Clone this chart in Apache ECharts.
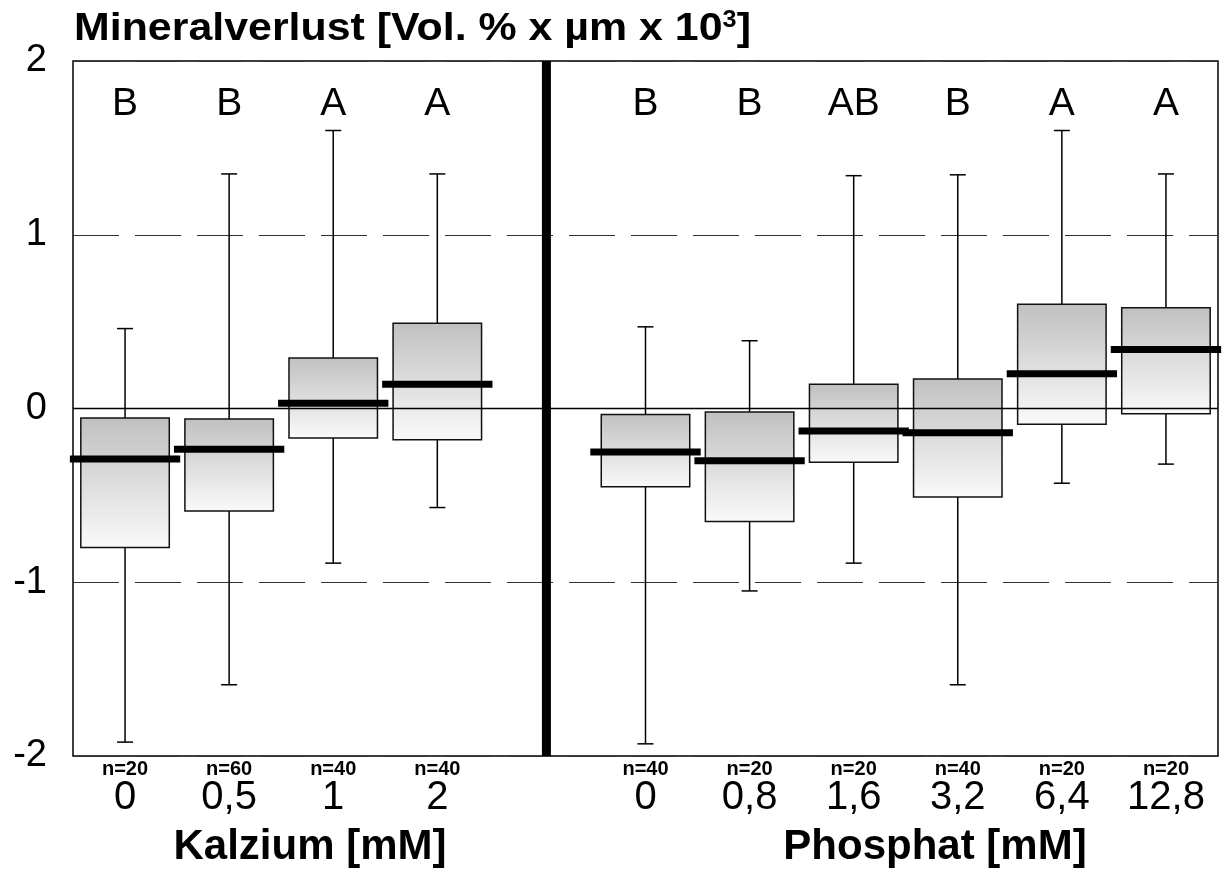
<!DOCTYPE html>
<html>
<head>
<meta charset="utf-8">
<script src="https://cdn.jsdelivr.net/npm/echarts@6/dist/echarts.min.js"></script>
<style>
  html, body { margin: 0; padding: 0; background: #fff; }
  #chart { width: 1223px; height: 874px; }
</style>
</head>
<body>
<div id="chart"></div>
<script>
// Kategorien (Leerplatz an Index 4 = Trennlinie)
const categories = ['0', '0,5', '1', '2', '', '0', '0,8', '1,6', '3,2', '6,4', '12,8'];
const nCounts = [20, 60, 40, 40, null, 40, 20, 20, 40, 20, 20];
const letters = ['B', 'B', 'A', 'A', '', 'B', 'B', 'AB', 'B', 'A', 'A'];

// Boxplot-Werte
const lowWhisker  = [-1.92, -1.59, -0.89, -0.57, null, -1.93, -1.05, -0.89, -1.59, -0.43, -0.32];
const q1          = [-0.80, -0.59, -0.17, -0.18, null, -0.45, -0.65, -0.31, -0.51, -0.09, -0.03];
const median      = [-0.29, -0.235, 0.03, 0.14, null, -0.25, -0.30, -0.13, -0.14, 0.20, 0.34];
const q3          = [-0.055, -0.06, 0.29, 0.49, null, -0.035, -0.02, 0.14, 0.17, 0.60, 0.58];
const highWhisker = [0.46, 1.35, 1.60, 1.35, null, 0.47, 0.39, 1.34, 1.345, 1.60, 1.35];

const yTicks = [-2, -1, 0, 1, 2];
const separatorIndex = 4;
const letterLevel = 1.752;

const FONT = 'Liberation Sans, Arial, sans-serif';

const boxData = [];
categories.forEach((c, i) => {
    if (median[i] == null) return;
    boxData.push([i, lowWhisker[i], q1[i], median[i], q3[i], highWhisker[i]]);
});

// eine Box zeichnen
function renderBox(params, api) {
    const idx = api.value(0);
    const x = api.coord([idx, 0])[0];
    const band = api.size([1, 0])[0];
    const yLow = api.coord([idx, api.value(1)])[1];
    const yQ1 = api.coord([idx, api.value(2)])[1];
    const yMed = api.coord([idx, api.value(3)])[1];
    const yQ3 = api.coord([idx, api.value(4)])[1];
    const yHigh = api.coord([idx, api.value(5)])[1];
    const yLetter = api.coord([idx, letterLevel])[1];
    const boxW = band * 0.85;
    const medW = band * 1.06;
    const capW = 16;
    const lineStyle = { stroke: '#000', lineWidth: 1.5 };
    return {
        type: 'group',
        children: [
            { type: 'line', shape: { x1: x, y1: yHigh, x2: x, y2: yQ3 }, style: lineStyle },
            { type: 'line', shape: { x1: x - capW / 2, y1: yHigh, x2: x + capW / 2, y2: yHigh }, style: lineStyle },
            { type: 'line', shape: { x1: x, y1: yQ1, x2: x, y2: yLow }, style: lineStyle },
            { type: 'line', shape: { x1: x - capW / 2, y1: yLow, x2: x + capW / 2, y2: yLow }, style: lineStyle },
            {
                type: 'rect',
                shape: { x: x - boxW / 2, y: yQ3, width: boxW, height: yQ1 - yQ3 },
                style: {
                    fill: new echarts.graphic.LinearGradient(0, 0, 0, 1, [
                        { offset: 0, color: '#c0c0c0' },
                        { offset: 1, color: '#fafafa' }
                    ]),
                    stroke: '#111',
                    lineWidth: 1.5
                }
            },
            {
                type: 'rect',
                shape: { x: x - medW / 2, y: yMed - 3.5, width: medW, height: 7 },
                style: { fill: '#000' }
            },
            {
                type: 'text',
                x: x,
                y: yLetter,
                style: {
                    text: letters[idx],
                    x: 0,
                    y: 0,
                    fill: '#000',
                    font: '39px ' + FONT,
                    align: 'center',
                    verticalAlign: 'middle'
                }
            }
        ]
    };
}

// Nulllinie und Trennbalken
function renderFrame(params, api) {
    const cs = params.coordSys;
    const y0 = api.coord([0, 0])[1];
    const xs = api.coord([separatorIndex, 0])[0] + 5;
    return {
        type: 'group',
        children: [
            { type: 'line', shape: { x1: cs.x, y1: y0, x2: cs.x + cs.width, y2: y0 }, style: { stroke: '#000', lineWidth: 1.5 } },
            { type: 'rect', shape: { x: xs - 4.5, y: cs.y, width: 9, height: cs.height }, style: { fill: '#000' } }
        ]
    };
}

const chart = echarts.init(document.getElementById('chart'));

chart.setOption({
    animation: false,
    backgroundColor: '#fff',
    grid: {
        left: 73, right: 5, top: 61, bottom: 118,
        show: true, borderColor: '#000', borderWidth: 1.5, backgroundColor: 'transparent'
    },
    xAxis: {
        type: 'category',
        data: categories,
        boundaryGap: true,
        axisLine: { show: false },
        axisTick: { show: false },
        splitLine: { show: false },
        axisLabel: {
            interval: 0,
            margin: 3,
            color: '#000',
            formatter: function (val, i) {
                if (nCounts[i] == null) return '';
                return '{n|n=' + nCounts[i] + '}\n{v|' + val + '}';
            },
            rich: {
                n: { fontFamily: FONT, fontSize: 20, fontWeight: 'bold', lineHeight: 20, color: '#000' },
                v: { fontFamily: FONT, fontSize: 40, lineHeight: 37, color: '#000' }
            }
        }
    },
    yAxis: {
        type: 'value',
        min: yTicks[0],
        max: yTicks[yTicks.length - 1],
        interval: 1,
        axisLine: { show: false },
        axisTick: { show: false },
        axisLabel: { margin: 26, color: '#000', fontFamily: FONT, fontSize: 38 },
        splitLine: { show: true, lineStyle: { color: '#333', width: 1, type: [46, 16] } }
    },
    graphic: [
        {
            type: 'text', x: 74, y: 9, scaleX: 1.1,
            style: {
                text: '{a|Mineralverlust [Vol. % x µm x 10}{s|3}{a|]}',
                fill: '#000',
                rich: {
                    a: { fontFamily: FONT, fontSize: 39, fontWeight: 'bold', lineHeight: 40, fill: '#000' },
                    s: { fontFamily: FONT, fontSize: 23, fontWeight: 'bold', lineHeight: 18, verticalAlign: 'top', fill: '#000' }
                }
            }
        },
        {
            type: 'text', x: 310, y: 847,
            style: { text: 'Kalzium [mM]', font: 'bold 42px ' + FONT, fill: '#000', align: 'center', verticalAlign: 'middle' }
        },
        {
            type: 'text', x: 935, y: 847,
            style: { text: 'Phosphat [mM]', font: 'bold 42px ' + FONT, fill: '#000', align: 'center', verticalAlign: 'middle' }
        }
    ],
    series: [
        {
            type: 'custom',
            name: 'boxes',
            z: 2,
            renderItem: renderBox,
            encode: { x: 0, y: [1, 2, 3, 4, 5] },
            data: boxData
        },
        {
            type: 'custom',
            name: 'frame',
            z: 5,
            renderItem: renderFrame,
            encode: { x: 0, y: 1 },
            data: [[0, 0]]
        }
    ]
});
</script>
</body>
</html>
